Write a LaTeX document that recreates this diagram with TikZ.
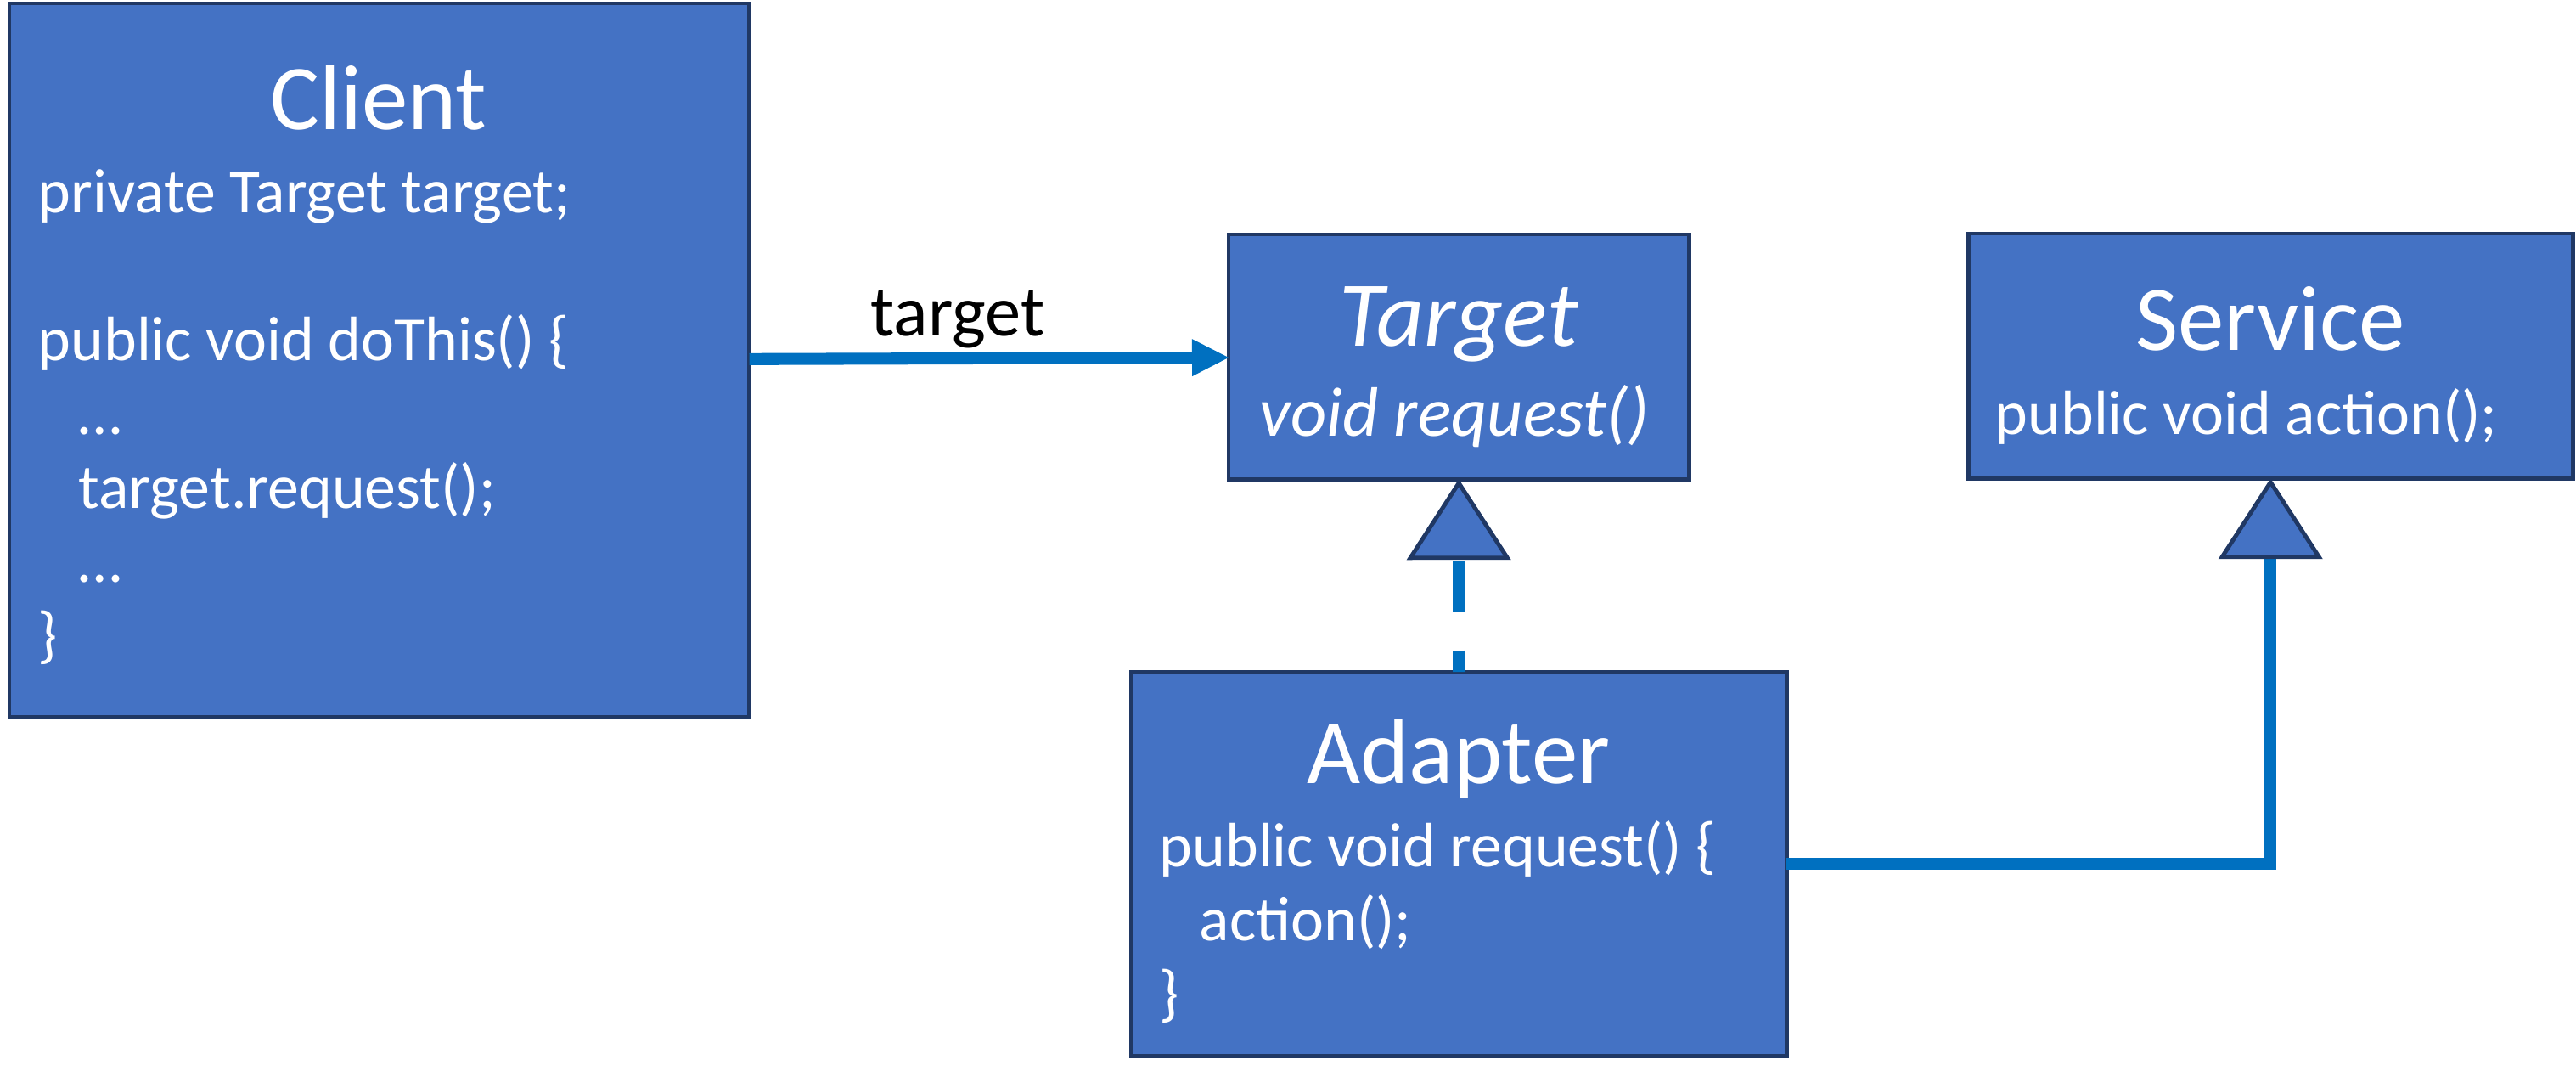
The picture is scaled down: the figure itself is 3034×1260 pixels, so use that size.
\documentclass[tikz,border=0pt]{standalone}
\usepackage{fontspec}
\setmainfont{Carlito}
\usetikzlibrary{arrows.meta}
\definecolor{boxfill}{HTML}{4472C4}
\definecolor{boxline}{HTML}{203864}
\definecolor{linkblue}{HTML}{0070C0}

\begin{document}
\begin{tikzpicture}[x=0.01cm, y=-0.01cm,
  box/.style={rectangle, draw=boxline, fill=boxfill, line width=1.4pt, anchor=north west, inner sep=0pt, outer sep=0pt},
  title/.style={text=white, inner sep=0pt, anchor=base, font=\fontsize{31}{36}\selectfont},
  body/.style={text=white, inner sep=0pt, anchor=base west, align=left, font=\fontsize{21}{24.7}\selectfont},
  link/.style={draw=linkblue, line width=4pt},
  realize/.style={-{Triangle[length=0.95cm, width=1.22cm, color=boxline, fill=boxfill, line width=1.4pt]}}]

\useasboundingbox (0,0) rectangle (3034,1260);

% The classes of the Adapter pattern

\node[box, minimum width=8.71cm, minimum height=8.40cm] (client) at (11,4) {};
\node[box, minimum width=5.42cm, minimum height=2.88cm] (target) at (1447,276) {};
\node[box, minimum width=7.12cm, minimum height=2.88cm] (service) at (2318,275) {};
\node[box, minimum width=7.72cm, minimum height=4.52cm] (adapter) at (1332,791) {};

% texts (multi-line bodies sit on the baseline of their last line)

\node[title] (clientname) at (446,152) {Client};
\node[body] (clientbody) at (44,772) {private Target target;\\[0.87cm]
public void doThis() \{\\
\hspace*{0.48cm}…\\
\hspace*{0.48cm}target.request();\\
\hspace*{0.48cm}…\\
\}};
\node[title] (targetname) at (1718,407) {\itshape Target};
\node[body, font=\fontsize{23.4}{28}\selectfont\itshape] (targetbody) at (1483,513) {void request()};
\node[title] (servicename) at (2674,412) {Service};
\node[body] (servicebody) at (2349,511) {public void action();};
\node[title] (adaptername) at (1718,922) {Adapter};
\node[body] (adapterbody) at (1365,1194) {public void request() \{\\
\hspace*{0.47cm}action();\\
\}};

% edges

\draw[link, -{Triangle[length=0.43cm, width=0.44cm, line width=0pt]}] (client) -- (target);
\node[inner sep=0pt, anchor=base, font=\fontsize{24}{28}\selectfont] (targetlabel) at (1128,395) {target};
\draw[link, realize, dash pattern=on 0.25cm off 0.45cm on 0.6cm off 0.45cm] (adapter.north) -- (target.south);
\draw[link, realize] (adapter.east) -| (service.south);

\end{tikzpicture}
\end{document}
